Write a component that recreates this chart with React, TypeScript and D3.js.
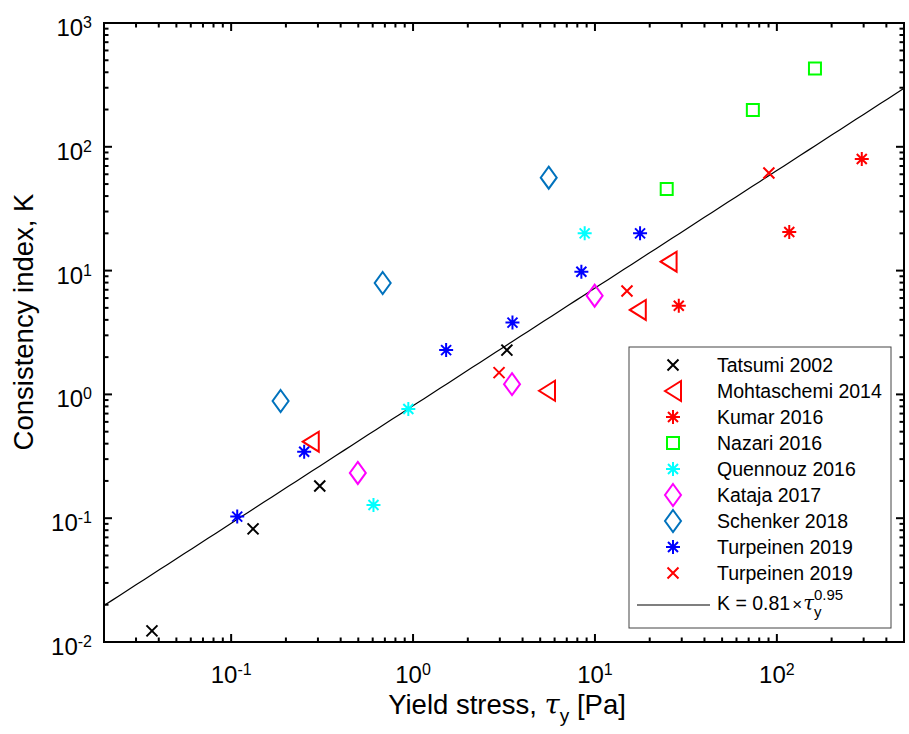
import { useEffect, useRef } from "react";
import * as d3 from "d3";

// data: [yield stress (Pa), consistency index K]
const tatsumi: [number, number][] = [[0.0367, 0.0123], [0.132, 0.082], [0.307, 0.182], [3.28, 2.28]];
const mohtaschemi: [number, number][] = [[0.274, 0.415], [5.45, 1.07], [17.2, 4.81], [25.4, 11.8]];
const kumar: [number, number][] = [[28.9, 5.2], [117, 20.5], [293, 79.7]];
const nazari: [number, number][] = [[24.8, 45.6], [73.8, 198], [162, 430]];
const quennouz: [number, number][] = [[0.942, 0.762], [0.606, 0.128], [8.78, 20.0]];
const kataja: [number, number][] = [[0.497, 0.232], [3.5, 1.21], [9.96, 6.27]];
const schenker: [number, number][] = [[0.187, 0.885], [0.681, 7.94], [5.57, 56.3]];
const turpeinenA: [number, number][] = [[0.108, 0.103], [0.252, 0.344], [1.52, 2.28], [3.52, 3.8], [8.42, 9.8], [17.7, 20.0]];
const turpeinenB: [number, number][] = [[2.97, 1.5], [15.0, 6.85], [90.4, 61.4]];

const fitA = 0.81;
const fitB = 0.95;

const xDomain = [0.02, 500];
const yDomain = [0.01, 1000];

const series = [
  { name: "Tatsumi 2002", data: tatsumi, color: "#000000", marker: "x" },
  { name: "Mohtaschemi 2014", data: mohtaschemi, color: "#ff0000", marker: "<" },
  { name: "Kumar 2016", data: kumar, color: "#ff0000", marker: "*" },
  { name: "Nazari 2016", data: nazari, color: "#00ff00", marker: "s" },
  { name: "Quennouz 2016", data: quennouz, color: "#00ffff", marker: "*" },
  { name: "Kataja 2017", data: kataja, color: "#ff00ff", marker: "d" },
  { name: "Schenker 2018", data: schenker, color: "#0072bd", marker: "d" },
  { name: "Turpeinen 2019", data: turpeinenA, color: "#0000ff", marker: "*" },
  { name: "Turpeinen 2019", data: turpeinenB, color: "#ff0000", marker: "x" },
];

function markerPath(m: string): string {
  if (m === "x") {
    const r = 5.5;
    return `M${-r},${-r}L${r},${r}M${-r},${r}L${r},${-r}`;
  }
  if (m === "*") {
    const r = 7, d = 5;
    return `M0,${-r}L0,${r}M${-r},0L${r},0M${-d},${-d}L${d},${d}M${-d},${d}L${d},${-d}`;
  }
  if (m === "d") return "M0,-11L8,0L0,11L-8,0Z";
  if (m === "<") return "M-8,0L8,-10L8,10Z";
  return "M-6,-6L6,-6L6,6L-6,6Z";
}

export default function App() {
  const svgRef = useRef<SVGSVGElement>(null);

  useEffect(() => {
    document.body.style.margin = "0";
    const width = 909;
    const height = 734;
    const margin = { top: 23, right: 5, bottom: 92, left: 104 };
    const font = "'Liberation Sans', Arial, Helvetica, sans-serif";

    const svg = d3.select(svgRef.current);
    svg.selectAll("*").remove();
    svg.attr("width", width).attr("height", height).style("display", "block").style("font-family", font);

    const x = d3.scaleLog().domain(xDomain).range([margin.left, width - margin.right]);
    const y = d3.scaleLog().domain(yDomain).range([height - margin.bottom, margin.top]);
    const [x0, x1] = x.range();
    const [y0, y1] = y.range();

    svg.append("rect").attr("width", width).attr("height", height).attr("fill", "#fff");

    svg.append("clipPath").attr("id", "plotclip")
      .append("rect").attr("x", x0).attr("y", y1).attr("width", x1 - x0).attr("height", y0 - y1);

    // fit line
    const fitX = d3.range(0, 101).map(i => Math.pow(10, Math.log10(xDomain[0]) + (i / 100) * Math.log10(xDomain[1] / xDomain[0])));
    const line = d3.line<number>().x(d => x(d)).y(d => y(fitA * Math.pow(d, fitB)));
    svg.append("path").attr("d", line(fitX)).attr("fill", "none").attr("stroke", "#000")
      .attr("stroke-width", 1.2).attr("clip-path", "url(#plotclip)");

    // markers
    series.forEach(s => {
      svg.append("g").selectAll("path").data(s.data).enter().append("path")
        .attr("transform", d => `translate(${x(d[0])},${y(d[1])})`)
        .attr("d", markerPath(s.marker))
        .attr("fill", "none").attr("stroke", s.color).attr("stroke-width", 2);
    });

    // ticks
    const ticksFor = (dom: number[]) => {
      const major: number[] = [];
      const minor: number[] = [];
      for (let e = Math.floor(Math.log10(dom[0])); e <= Math.ceil(Math.log10(dom[1])); e++) {
        for (let k = 1; k <= 9; k++) {
          const v = k * Math.pow(10, e);
          if (v < dom[0] * 0.999 || v > dom[1] * 1.001) continue;
          (k === 1 ? major : minor).push(v);
        }
      }
      return { major, minor };
    };
    const xt = ticksFor(xDomain);
    const yt = ticksFor(yDomain);
    const axes = svg.append("g").attr("stroke", "#000").attr("stroke-width", 2);
    const majLen = 8, minLen = 4.5;
    [...xt.major.map(v => [v, majLen]), ...xt.minor.map(v => [v, minLen])].forEach(([v, l]) => {
      axes.append("line").attr("x1", x(v)).attr("x2", x(v)).attr("y1", y0).attr("y2", y0 - l);
      axes.append("line").attr("x1", x(v)).attr("x2", x(v)).attr("y1", y1).attr("y2", y1 + l);
    });
    [...yt.major.map(v => [v, majLen]), ...yt.minor.map(v => [v, minLen])].forEach(([v, l]) => {
      axes.append("line").attr("y1", y(v)).attr("y2", y(v)).attr("x1", x0).attr("x2", x0 + l);
      axes.append("line").attr("y1", y(v)).attr("y2", y(v)).attr("x1", x1).attr("x2", x1 - l);
    });
    axes.append("rect").attr("x", x0).attr("y", y1).attr("width", x1 - x0).attr("height", y0 - y1).attr("fill", "none");

    // tick labels
    const tickSize = 24;
    const supSize = 16;
    xt.major.filter(v => v > xDomain[0] * 1.001).forEach(v => {
      const t = svg.append("text").attr("x", x(v)).attr("y", y0 + 41).attr("text-anchor", "middle")
        .style("font-size", `${tickSize}px`).attr("fill", "#000");
      t.append("tspan").text("10");
      t.append("tspan").attr("dy", -8).style("font-size", `${supSize}px`).text(String(Math.round(Math.log10(v))));
    });
    yt.major.forEach(v => {
      const t = svg.append("text").attr("x", 92).attr("y", y(v) + 13).attr("text-anchor", "end")
        .style("font-size", `${tickSize}px`).attr("fill", "#000");
      t.append("tspan").text("10");
      t.append("tspan").attr("dy", -8).style("font-size", `${supSize}px`).text(String(Math.round(Math.log10(v))));
    });

    // axis labels
    const labelSize = 27.5;
    const xl = svg.append("text").attr("x", 507).attr("y", 714).attr("text-anchor", "middle")
      .style("font-size", `${labelSize}px`).attr("fill", "#000");
    xl.append("tspan").text("Yield stress, ");
    xl.append("tspan").style("font-style", "italic").style("font-family", "'DejaVu Serif', serif").text("τ");
    xl.append("tspan").attr("dy", 8).style("font-size", "19px").text("y");
    xl.append("tspan").attr("dy", -8).text(" [Pa]");

    svg.append("text").attr("transform", "translate(33,322) rotate(-90)").attr("text-anchor", "middle")
      .style("font-size", `${labelSize}px`).attr("fill", "#000").text("Consistency index, K");

    // legend
    const lg = svg.append("g");
    lg.append("rect").attr("x", 629).attr("y", 347).attr("width", 262).attr("height", 281)
      .attr("fill", "#fff").attr("stroke", "#444").attr("stroke-width", 1);
    series.forEach((s, i) => {
      const cy = 365 + i * 26;
      lg.append("path").attr("transform", `translate(673,${cy})`).attr("d", markerPath(s.marker))
        .attr("fill", "none").attr("stroke", s.color).attr("stroke-width", 2);
      lg.append("text").attr("x", 717).attr("y", cy + 6.8).style("font-size", "19.5px").attr("fill", "#000").text(s.name);
    });
    lg.append("line").attr("x1", 637).attr("x2", 710).attr("y1", 605).attr("y2", 605)
      .attr("stroke", "#000").attr("stroke-width", 1.2);
    const ft = lg.append("text").attr("x", 717).attr("y", 610).style("font-size", "19.5px").attr("fill", "#000");
    ft.append("tspan").text(`K = ${fitA}`);
    ft.append("tspan").attr("dx", 2).style("font-size", "17px").text("×");
    ft.append("tspan").attr("dx", 1).style("font-style", "italic").style("font-family", "'DejaVu Serif', serif").text("τ");
    ft.append("tspan").attr("dy", 7).style("font-size", "15px").text("y");
    ft.append("tspan").attr("dx", -7.5).attr("dy", -17).style("font-size", "15px").text(String(fitB));
  }, []);

  return <svg ref={svgRef}></svg>;
}
